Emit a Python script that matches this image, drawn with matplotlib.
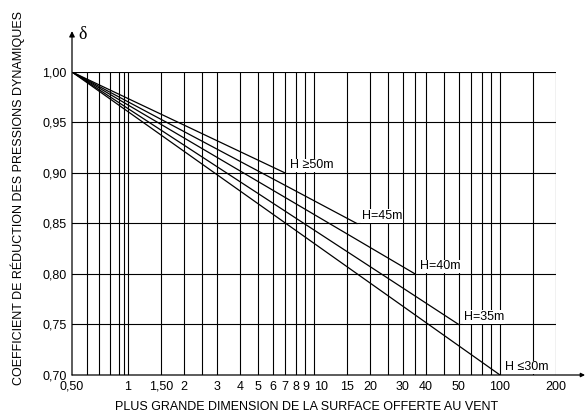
import matplotlib.pyplot as plt

plt.rcParams['font.family'] = ['Liberation Sans', 'DejaVu Sans']

# curve end points, all curves start at (0.5, 1.00)
x_start = 0.5
y_start = 1.00
curve_labels = ['H \u226550m', 'H=45m', 'H=40m', 'H=35m', 'H \u226430m']
x_end = [7, 17, 35, 60, 100]
y_end = [0.90, 0.85, 0.80, 0.75, 0.70]

# grid and ticks
x_grid = [0.6, 0.7, 0.8, 0.9, 0.95, 1, 1.5, 2, 2.5, 3, 4, 5, 6, 7, 8, 9, 10,
          15, 20, 25, 30, 35, 40, 50, 60, 70, 80, 90, 100, 150, 200]
x_tick_pos = [0.5, 1, 1.5, 2, 3, 4, 5, 6, 7, 8, 9, 10, 15, 20, 30, 40, 60, 100, 200]
x_tick_labels = ['0,50', '1', '1,50', '2', '3', '4', '5', '6', '7', '8', '9', '10',
                 '15', '20', '30', '40', '50', '100', '200']
y_ticks = [0.70, 0.75, 0.80, 0.85, 0.90, 0.95, 1.00]
y_tick_labels = ['0,70', '0,75', '0,80', '0,85', '0,90', '0,95', '1,00']

fig = plt.figure(figsize=(5.87, 4.17), dpi=100)
ax = fig.add_axes([72 / 587, 42 / 417, 484 / 587, 303 / 417])
ax.set_xscale('log')
ax.set_xlim(0.5, 200)
ax.set_ylim(0.70, 1.00)

for xg in x_grid:
    ax.axvline(xg, color='black', lw=0.8, zorder=1)
for yg in y_ticks[1:]:
    ax.axhline(yg, color='black', lw=0.8, zorder=1)

for lab, xe, ye in zip(curve_labels, x_end, y_end):
    ax.plot([x_start, xe], [y_start, ye], color='black', lw=0.9, zorder=2)
    ax.annotate(lab, (xe, ye), xytext=(3.5, 5.5), textcoords='offset points',
                ha='left', va='center', fontsize=9,
                bbox=dict(facecolor='white', edgecolor='none', pad=0.5), zorder=3)

ax.set_xticks(x_tick_pos)
ax.set_xticklabels(x_tick_labels)
ax.xaxis.set_minor_locator(plt.NullLocator())
ax.set_yticks(y_ticks)
ax.set_yticklabels(y_tick_labels)
ax.tick_params(length=0, labelsize=9, pad=4)
# "10" sits right of its line so it does not run into "9"
ax.get_xticklabels()[x_tick_labels.index('10')].set_ha('left')

for s in ['top', 'right', 'left', 'bottom']:
    ax.spines[s].set_visible(False)

# axes with arrows
ax.annotate('', xy=(0, 1.135), xytext=(0, 0), xycoords='axes fraction',
            arrowprops=dict(arrowstyle='-|>', color='black', lw=0.9,
                            mutation_scale=8, shrinkA=0, shrinkB=0))
ax.annotate('', xy=(1.06, 0), xytext=(0, 0), xycoords='axes fraction',
            arrowprops=dict(arrowstyle='-|>', color='black', lw=0.9,
                            mutation_scale=6, shrinkA=0, shrinkB=0))
ax.text(0.014, 1.125, '\u03b4', transform=ax.transAxes, ha='left', va='center',
        fontsize=13, family=['Liberation Serif', 'DejaVu Serif'])

fig.text(307 / 587, 1 - 407 / 417, 'PLUS GRANDE DIMENSION DE LA SURFACE OFFERTE AU VENT',
         ha='center', va='center', fontsize=9)
fig.text(18 / 587, 1 - 198 / 417, 'COEFFICIENT DE RÉDUCTION DES PRESSIONS DYNAMIQUES',
         ha='center', va='center', rotation=90, fontsize=9)

fig.savefig('out.png', dpi=100)
